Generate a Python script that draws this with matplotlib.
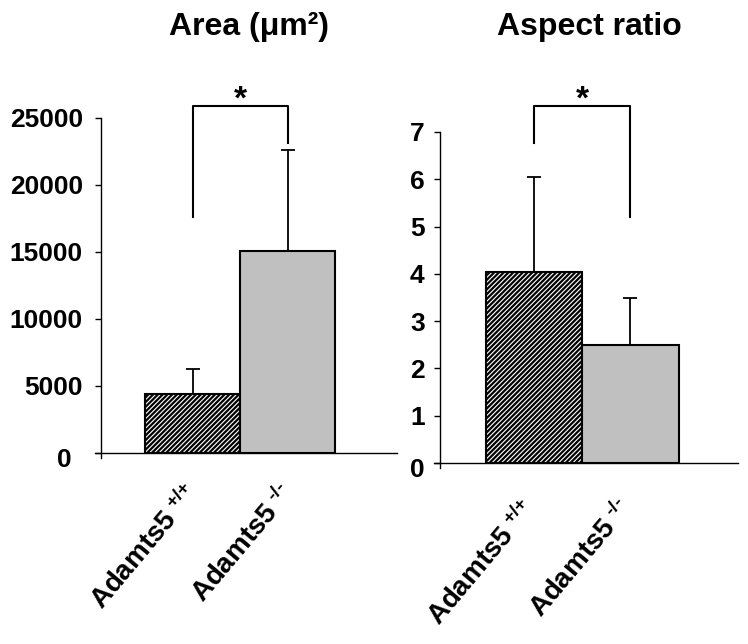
import matplotlib
matplotlib.use('Agg')
import matplotlib.pyplot as plt
import matplotlib.transforms as mtransforms
import numpy as np

plt.rcParams['font.family'] = ['Liberation Sans', 'DejaVu Sans']
plt.rcParams['font.weight'] = 'bold'
plt.rcParams['mathtext.fontset'] = 'custom'
plt.rcParams['mathtext.rm'] = 'Liberation Sans:bold'
plt.rcParams['mathtext.bf'] = 'Liberation Sans:bold'
plt.rcParams['mathtext.it'] = 'Liberation Sans:bold'
plt.rcParams['mathtext.sf'] = 'Liberation Sans:bold'
plt.rcParams['hatch.linewidth'] = 1.6

# data
groups = ['Adamts5$^{\\ \\text{+/+}}$', 'Adamts5$^{\\ \\text{-/-}}$']
area_mean = [4400, 15100]
area_err = [1900, 7500]
ratio_mean = [4.03, 2.5]
ratio_err = [2.02, 0.98]

titles = ['Area (\u03bcm\u00b2)', 'Aspect ratio']
# bracket: left foot, right foot, top
area_bracket = [17600, 23100, 25900]
ratio_bracket = [6.77, 5.2, 7.55]

fig = plt.figure(figsize=(7.48, 6.44), dpi=100)
ax1 = fig.add_axes([0.1350, 0.2966, 0.3957, 0.5202])
ax2 = fig.add_axes([0.5882, 0.2811, 0.3984, 0.5140])


def draw_panel(ax, means, errs, bracket, ylim, yticks, xlim, title, lab_off, zero_off):
    x = np.arange(len(means))
    ax.bar(x, means, width=1.0, color=['white', '#c0c0c0'],
           edgecolor='black', linewidth=1.5, hatch=['///////', None], zorder=2)
    ax.errorbar(x, means, yerr=[np.zeros(len(errs)), errs], fmt='none',
                ecolor='black', elinewidth=1.3, capsize=5, capthick=1.3, zorder=1)

    ax.plot([0, 0, 1, 1], [bracket[0], bracket[2], bracket[2], bracket[1]],
            color='black', lw=1.5, clip_on=False)
    ax.annotate('*', xy=(0.5, bracket[2]), xytext=(0, -7), textcoords='offset points',
                ha='center', va='bottom', fontsize=24, fontweight='bold',
                annotation_clip=False)

    ax.set_xlim(xlim)
    ax.set_ylim(ylim)
    ax.set_yticks(yticks)
    ax.set_xticks(x)
    ax.set_xticklabels(groups, rotation=50, ha='right', va='top',
                       rotation_mode='anchor', fontsize=20, fontweight='bold')
    ax.tick_params(axis='x', length=0, pad=lab_off[1])
    ax.tick_params(axis='y', direction='out', length=4, width=1, pad=lab_off[2],
                   labelsize=19)
    for lab in ax.get_yticklabels():
        lab.set_fontweight('bold')
    offset = mtransforms.ScaledTranslation(lab_off[0] / 100, 0, fig.dpi_scale_trans)
    for lab in ax.get_xticklabels():
        lab.set_transform(lab.get_transform() + offset)
    # the zero label sits a little lower (and further left) than the others
    zlab = ax.get_yticklabels()[0]
    zlab.set_transform(zlab.get_transform() +
                       mtransforms.ScaledTranslation(zero_off[0] / 100, -zero_off[1] / 100,
                                                     fig.dpi_scale_trans))

    for s in ['top', 'right']:
        ax.spines[s].set_visible(False)
    dy = (ylim[1] - ylim[0]) * 5 / 330
    dx = (xlim[1] - xlim[0]) * 6 / 296
    ax.spines['left'].set_bounds(ylim[0] - dy, ylim[1])
    ax.spines['bottom'].set_bounds(xlim[0] - dx, xlim[1])
    ax.spines['left'].set_linewidth(1)
    ax.spines['bottom'].set_linewidth(1)

    ax.text(0.5, 1 - 35 / 644, title,
            transform=mtransforms.blended_transform_factory(ax.transAxes, fig.transFigure),
            ha='center', va='baseline', fontsize=23, fontweight='bold')


draw_panel(ax1, area_mean, area_err, area_bracket, (0, 25000),
           [0, 5000, 10000, 15000, 20000, 25000], (-0.968, 2.147), titles[0],
           (-10, 19, 9), (-11, 5))
draw_panel(ax2, ratio_mean, ratio_err, ratio_bracket, (0, 7),
           range(8), (-0.974, 2.114), titles[1], (-14, 23, 7), (0, 5))

fig.savefig('out.png', dpi=100)
